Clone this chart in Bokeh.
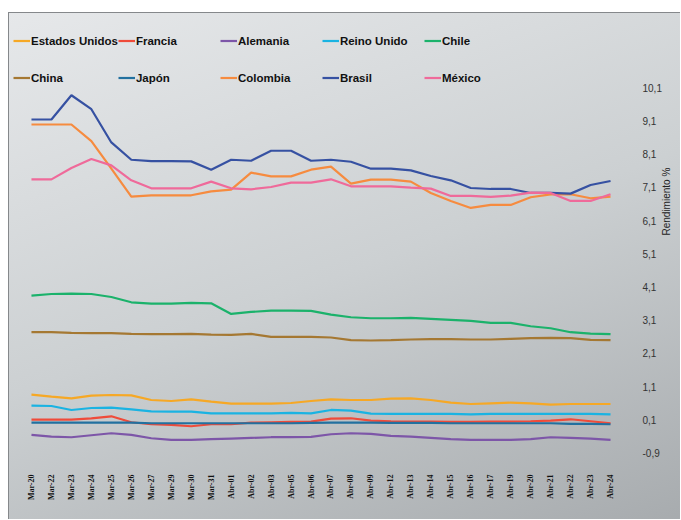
import math
from bokeh.plotting import figure
from bokeh.models import (FactorRange, Range1d, FixedTicker, CustomJSTickFormatter,
                          Legend, LegendItem)
from bokeh.embed import file_html
from bokeh.resources import INLINE

dates = ["Mar-20", "Mar-22", "Mar-23", "Mar-24", "Mar-25", "Mar-26", "Mar-27", "Mar-29",
         "Mar-30", "Mar-31", "Abr-01", "Abr-02", "Abr-03", "Abr-05", "Abr-06", "Abr-07",
         "Abr-08", "Abr-09", "Abr-12", "Abr-13", "Abr-14", "Abr-15", "Abr-16", "Abr-17",
         "Abr-19", "Abr-20", "Abr-21", "Abr-22", "Abr-23", "Abr-24"]

estados_unidos = [0.86, 0.80, 0.75, 0.83, 0.85, 0.84, 0.70, 0.67, 0.72, 0.65, 0.59, 0.59, 0.59, 0.61, 0.67,
                  0.72, 0.70, 0.70, 0.74, 0.75, 0.70, 0.62, 0.58, 0.60, 0.62, 0.60, 0.56, 0.58, 0.58, 0.58]
francia = [0.11, 0.11, 0.11, 0.15, 0.21, 0.03, -0.03, -0.05, -0.09, -0.03, -0.03, 0.02, 0.03, 0.04, 0.05,
           0.14, 0.15, 0.08, 0.06, 0.05, 0.05, 0.04, 0.04, 0.05, 0.05, 0.06, 0.08, 0.12, 0.06, 0.00]
alemania = [-0.35, -0.40, -0.42, -0.36, -0.30, -0.35, -0.45, -0.50, -0.50, -0.48, -0.46, -0.44, -0.42, -0.42, -0.41,
            -0.33, -0.30, -0.32, -0.38, -0.40, -0.44, -0.48, -0.50, -0.50, -0.50, -0.48, -0.42, -0.44, -0.46, -0.50]
reino_unido = [0.53, 0.52, 0.40, 0.46, 0.47, 0.42, 0.36, 0.35, 0.35, 0.30, 0.30, 0.30, 0.30, 0.31, 0.30,
               0.40, 0.38, 0.29, 0.28, 0.28, 0.28, 0.28, 0.27, 0.28, 0.28, 0.28, 0.28, 0.28, 0.28, 0.27]
chile = [3.84, 3.89, 3.90, 3.89, 3.80, 3.64, 3.60, 3.60, 3.62, 3.61, 3.29, 3.35, 3.39, 3.39, 3.38,
         3.27, 3.19, 3.16, 3.16, 3.17, 3.14, 3.11, 3.08, 3.02, 3.02, 2.92, 2.86, 2.74, 2.70, 2.68]
china = [2.74, 2.74, 2.72, 2.71, 2.71, 2.69, 2.68, 2.68, 2.69, 2.67, 2.66, 2.69, 2.60, 2.60, 2.60,
         2.58, 2.50, 2.49, 2.50, 2.52, 2.53, 2.53, 2.52, 2.52, 2.54, 2.56, 2.57, 2.56, 2.51, 2.50]
japon = [0.02, 0.02, 0.02, 0.02, 0.02, 0.02, 0.00, 0.00, 0.00, 0.00, 0.00, 0.00, 0.00, 0.00, 0.01,
         0.02, 0.02, 0.02, 0.01, 0.01, 0.01, 0.00, 0.00, 0.00, 0.00, 0.00, 0.00, -0.02, -0.02, -0.03]
colombia = [8.99, 8.99, 8.99, 8.49, 7.66, 6.82, 6.86, 6.86, 6.86, 6.98, 7.03, 7.54, 7.43, 7.43, 7.63,
            7.72, 7.21, 7.33, 7.33, 7.27, 6.93, 6.69, 6.48, 6.57, 6.57, 6.80, 6.89, 6.89, 6.77, 6.82]
brasil = [9.14, 9.14, 9.87, 9.45, 8.45, 7.93, 7.89, 7.89, 7.88, 7.63, 7.93, 7.90, 8.20, 8.20, 7.90,
          7.93, 7.87, 7.66, 7.66, 7.61, 7.44, 7.31, 7.08, 7.05, 7.05, 6.93, 6.93, 6.91, 7.17, 7.29]
mexico = [7.34, 7.34, 7.68, 7.95, 7.76, 7.31, 7.07, 7.07, 7.07, 7.27, 7.07, 7.04, 7.11, 7.24, 7.24,
          7.34, 7.13, 7.13, 7.13, 7.09, 7.06, 6.84, 6.84, 6.81, 6.85, 6.94, 6.93, 6.69, 6.69, 6.89]

y_ticks = [-0.9, 0.1, 1.1, 2.1, 3.1, 4.1, 5.1, 6.1, 7.1, 8.1, 9.1, 10.1]

series = [
    ("Estados Unidos", estados_unidos, "#f6a825"),
    ("Francia", francia, "#ef4b3a"),
    ("Alemania", alemania, "#7d56a8"),
    ("Reino Unido", reino_unido, "#1ab3e2"),
    ("Chile", chile, "#1bb26b"),
    ("China", china, "#a57832"),
    ("Japón", japon, "#22709f"),
    ("Colombia", colombia, "#f68b3f"),
    ("Brasil", brasil, "#3651a2"),
    ("México", mexico, "#ef6a9a"),
]

# the frame also holds the legend area at the top, so the legend is not clipped
p = figure(width=680, height=519, output_backend="svg", toolbar_location=None,
           x_range=FactorRange(*dates, range_padding=0.55, range_padding_units="absolute"),
           y_range=Range1d(-1.0, 12.3),
           y_axis_location="right",
           min_border_left=10, min_border_right=42, min_border_top=14, min_border_bottom=63)

p.background_fill_alpha = 0
p.border_fill_alpha = 0
p.outline_line_color = None
p.styles = {"background": ("linear-gradient(#85888b,#85888b) 8px 12px / 100% 1px no-repeat, "
                           "linear-gradient(#85888b,#85888b) 8px 12px / 1px 100% no-repeat, "
                           "linear-gradient(160deg, #e6e8ea 0%, #ccd0d2 50%, #a6aaad 100%) 8px 12px / 100% 100% no-repeat, "
                           "#ffffff")}
p.xgrid.visible = False
p.ygrid.visible = False

items = []
for name, vals, color in series:
    r = p.line(dates, vals, line_color=color, line_width=2.2)
    items.append(LegendItem(label=name, renderers=[r]))

legend = Legend(items=items, orientation="horizontal", ncols=5,
                location=(3, 359.8), padding=0, margin=0, spacing=0,
                glyph_width=17, glyph_height=37, label_height=37, label_width=84,
                label_standoff=1, border_line_color=None, background_fill_alpha=0,
                label_text_font="Liberation Sans", label_text_font_style="bold",
                label_text_font_size="11.5px", label_text_color="#111111")
p.add_layout(legend, "center")

ya = p.yaxis[0]
ya.ticker = FixedTicker(ticks=y_ticks)
ya.formatter = CustomJSTickFormatter(code="return tick.toFixed(1).replace('.', ',');")
ya.axis_line_color = None
ya.major_tick_line_color = None
ya.minor_tick_line_color = None
ya.major_label_standoff = 5
ya.major_label_text_font = "Liberation Sans"
ya.major_label_text_font_size = "10px"
ya.major_label_text_color = "#333333"
ya.axis_label = "Rendimiento %"
ya.axis_label_standoff = 2
ya.axis_label_text_font = "Liberation Sans"
ya.axis_label_text_font_size = "10px"
ya.axis_label_text_font_style = "normal"
ya.axis_label_text_color = "#222222"
try:
    ya.axis_label_orientation = math.pi / 2
except Exception:
    pass

xa = p.xaxis[0]
xa.axis_line_color = None
xa.major_tick_line_color = None
xa.major_label_orientation = math.pi / 2
xa.major_label_standoff = 12
xa.major_label_text_font = "Liberation Sans Narrow"
xa.major_label_text_font_style = "bold"
xa.major_label_text_font_size = "8px"
xa.major_label_text_color = "#111111"

open("out.html", "w").write(file_html(p, INLINE))
